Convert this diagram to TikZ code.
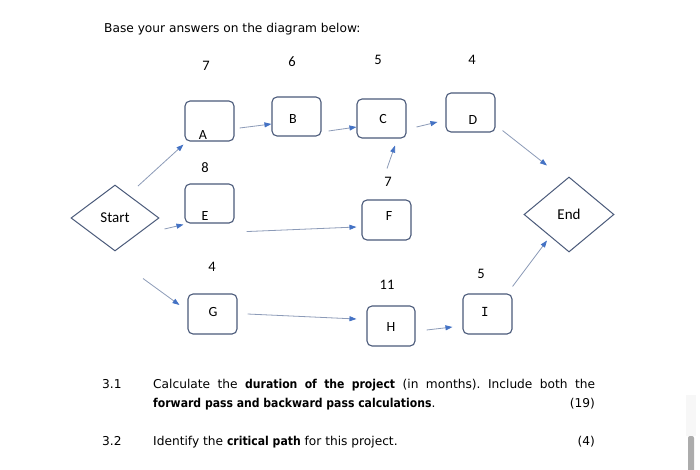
\documentclass[tikz,border=0pt]{standalone}
\usepackage{fontspec}
\setmainfont{DejaVu Sans}[BoldFeatures={FakeStretch=0.89}]
\newfontfamily\dfont{Carlito}
\newfontfamily\serifIfont{DejaVu Sans Mono}
\usetikzlibrary{arrows.meta,shapes.geometric,calc}
\definecolor{boxline}{HTML}{4A5A7A}
\definecolor{connline}{HTML}{8C9BB8}
\definecolor{tipblue}{HTML}{4472C4}
\tikzset{
  actbox/.style={draw=boxline, line width=1.1pt, rounded corners=5pt, minimum width=49pt, minimum height=39pt, inner sep=0pt},
  gate/.style={diamond, draw=boxline, line width=1pt, inner sep=0pt, font=\dfont\fontsize{15}{17}\selectfont},
  conn/.style={draw=connline, line width=0.8pt, -{Triangle[length=7pt,width=5pt,color=tipblue]}},
  dur/.style={font=\dfont\fontsize{14.5}{16}\selectfont, inner sep=0pt},
  blab/.style={font=\dfont\fontsize{14}{15}\selectfont, inner sep=0pt},
  qtext/.style={font=\fontsize{12.2}{14}\selectfont, inner sep=0pt, anchor=base west},
  qright/.style={font=\fontsize{12.2}{14}\selectfont, inner sep=0pt, anchor=base east},
}
\begin{document}
\frenchspacing
\begin{tikzpicture}[x=1pt,y=-1pt]
\useasboundingbox (0,0) rectangle (700,469);
\fill[white] (0,0) rectangle (700,469);

% heading
\node[qtext] (head) at (104,32) {Base your answers on the diagram below:};

% activity boxes
\node[actbox, minimum height=40pt] (A) at (209.5,121) {};
\node[actbox] (B) at (296.5,116.5) {};
\node[actbox] (C) at (381.5,118.5) {};
\node[actbox] (D) at (470.5,112.5) {};
\node[actbox] (E) at (209.5,203.5) {};
\node[actbox, minimum height=40pt] (F) at (386.5,220) {};
\node[actbox, minimum height=40pt] (G) at (212.5,314) {};
\node[actbox, minimum width=48pt, minimum height=40pt] (H) at (391,326) {};
\node[actbox, minimum height=40pt] (I) at (487.5,314) {};

% box letters
\node[blab] (Al) at (203,135) {A};
\node[blab] (Bl) at (293,119) {B};
\node[blab] (Cl) at (383,119) {C};
\node[blab] (Dl) at (473,120) {D};
\node[blab] (El) at (205,216) {E};
\node[blab] (Fl) at (389,216) {F};
\node[blab] (Gl) at (213,312) {G};
\node[blab] (Hl) at (391,327) {H};
\node[inner sep=0pt, font=\serifIfont\fontsize{12.5}{14}\selectfont] (Il) at (485,312) {I};

% start / end
\node[gate, minimum width=88pt, minimum height=66pt] (Start) at (115,218) {Start};
\node[gate, minimum width=90pt, minimum height=75pt] (End) at (569,214.5) {End};

% durations
\node[dur] (dA) at (206,66) {7};
\node[dur] (dB) at (292,62) {6};
\node[dur] (dC) at (378,60) {5};
\node[dur] (dD) at (472,60) {4};
\node[dur] (dE) at (205,168) {8};
\node[dur] (dF) at (388,182) {7};
\node[dur] (dG) at (212,267) {4};
\node[dur] (dH) at (387,285) {11};
\node[dur] (dI) at (481,274) {5};

% connectors
\draw[conn] ([shift={(23,-32)}]Start.center) -- ([shift={(-1,3)}]A.south west);
\draw[conn] ([shift={(5,7)}]A.east) -- ([shift={(0,7.5)}]B.west);
\draw[conn] ([shift={(7,14.5)}]B.east) -- ([shift={(0,8.5)}]C.west);
\draw[conn] ([shift={(10,8.5)}]C.east) -- ([shift={(-8,9.5)}]D.west);
\draw[conn] ([shift={(7,-2)}]D.south east) -- ([shift={(-22,-11)}]End.north);
\draw[conn] ([shift={(0.5,-31)}]F.north) -- ([shift={(13.5,7)}]C.south);
\draw[conn] ([shift={(5,11)}]Start.east) -- ([shift={(-1,1)}]E.south west);
\draw[conn] ([shift={(12,8)}]E.south east) -- ([shift={(-5,7)}]F.west);
\draw[conn] ([shift={(28,27)}]Start.south) -- ([shift={(-8,-9)}]G.west);
\draw[conn] ([shift={(10,0)}]G.east) -- ([shift={(-10,-7)}]H.west);
\draw[conn] ([shift={(11,4)}]H.east) -- ([shift={(-10,13)}]I.west);
\draw[conn] ([shift={(0,-7)}]I.north east) -- ([shift={(-22,-12)}]End.south);

% questions
\node[qtext] (q1n) at (102,388) {3.1};
\node[qtext] (q1a) at (153,388) {\makebox[442pt][s]{Calculate the \textbf{duration of the project} (in months). Include both the}};
\node[qtext] (q1b) at (153,407) {\textbf{forward pass and backward pass calculations}.};
\node[qright] (q1m) at (595,407) {(19)};
\node[qtext] (q2n) at (102,445) {3.2};
\node[qtext] (q2a) at (153,445) {Identify the \textbf{critical path} for this project.};
\node[qright] (q2m) at (595,445) {(4)};

% scrollbar
\fill[gray!6] (686,395) rectangle (696,436);
\fill[gray!65, rounded corners=2pt] (688,436) rectangle (694,475);
\end{tikzpicture}
\end{document}
